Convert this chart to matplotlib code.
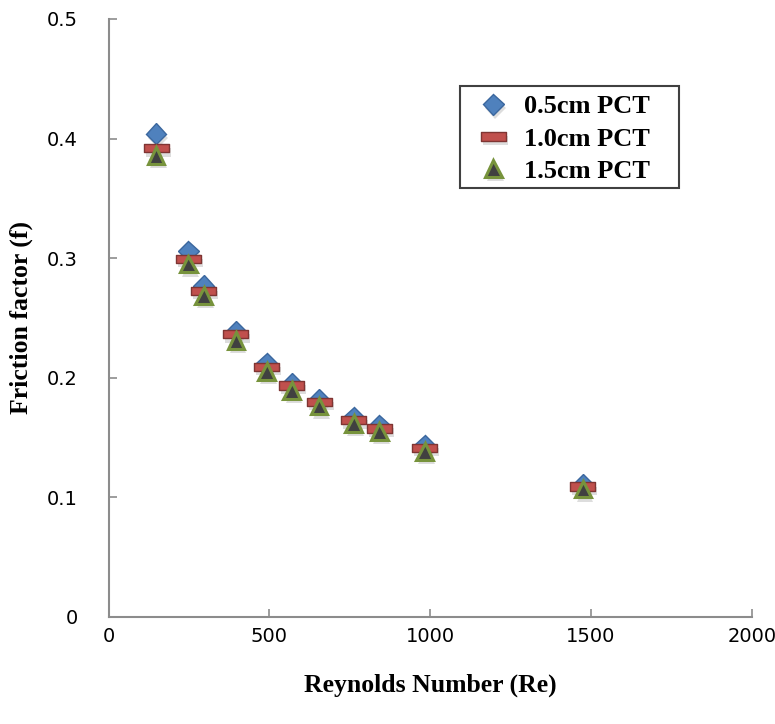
import matplotlib
matplotlib.use("Agg")
import matplotlib.pyplot as plt
from matplotlib.path import Path
from matplotlib.patches import Rectangle
import matplotlib.patheffects as pe

# Data
reynolds = [148, 248, 296, 396, 492, 570, 655, 762, 842, 983, 1475]
f_05 = [0.404, 0.306, 0.277, 0.239, 0.2125, 0.1957, 0.1819, 0.1673, 0.1604, 0.1437, 0.111]
f_10 = [0.392, 0.2995, 0.2726, 0.2364, 0.209, 0.1935, 0.1799, 0.1646, 0.1576, 0.1414, 0.1089]
f_15 = [0.386, 0.295, 0.2686, 0.2314, 0.205, 0.1896, 0.1763, 0.1618, 0.155, 0.1381, 0.107]
labels = ["0.5cm PCT", "1.0cm PCT", "1.5cm PCT"]
xticks = [0, 500, 1000, 1500, 2000]
yticks = [0, 0.1, 0.2, 0.3, 0.4, 0.5]
ytick_labels = ["0", "0.1", "0.2", "0.3", "0.4", "0.5"]

W, H = 775, 724
fig = plt.figure(figsize=(W / 100, H / 100), dpi=100)
ax = fig.add_axes([0.140, 0.1478, 0.830, 0.826])

bar_marker = Path([(-1, -0.34), (1, -0.34), (1, 0.34), (-1, 0.34), (-1, -0.34)],
                  [Path.MOVETO, Path.LINETO, Path.LINETO, Path.LINETO, Path.CLOSEPOLY])

shadow = [pe.SimplePatchShadow(offset=(1.5, -3), shadow_rgbFace="#909090", alpha=0.3), pe.Normal()]

ax.plot(reynolds, f_05, linestyle="none", marker="D", markersize=10.5,
        markerfacecolor="#4F81BD", markeredgecolor="#3B679E", markeredgewidth=1.0,
        label=labels[0], zorder=3, path_effects=shadow)
ax.plot(reynolds, f_10, linestyle="none", marker=bar_marker, markersize=18,
        markerfacecolor="#C0504D", markeredgecolor="#7F3533", markeredgewidth=1.0,
        label=labels[1], zorder=4, path_effects=shadow)
ax.plot(reynolds, f_15, linestyle="none", marker="^", markersize=12,
        markerfacecolor="#404040", markeredgecolor="#77933C", markeredgewidth=2.2,
        label=labels[2], zorder=5, path_effects=shadow)

ax.set_xlim(0, 2000)
ax.set_ylim(0, 0.5)
ax.set_xticks(xticks)
ax.set_yticks(yticks)
ax.set_yticklabels(ytick_labels)

for s in ["top", "right"]:
    ax.spines[s].set_visible(False)
for s in ["left", "bottom"]:
    ax.spines[s].set_color("#8C8C8C")
    ax.spines[s].set_linewidth(1.5)

ax.tick_params(axis="both", direction="in", length=6, width=1.2, color="#8C8C8C",
               labelsize=14, labelcolor="black")
ax.tick_params(axis="x", pad=7)
ax.tick_params(axis="y", pad=22)
for t in ax.get_xticklabels() + ax.get_yticklabels():
    t.set_family("DejaVu Sans")

ax.set_xlabel("Reynolds Number (Re)", fontsize=18.5, fontweight="bold",
              family="Liberation Serif", labelpad=20)
ax.set_ylabel("Friction factor (f)", fontsize=18.5, fontweight="bold",
              family="Liberation Serif", labelpad=10)

leg = ax.legend(loc="upper left", bbox_to_anchor=(480 / W, 1 - 95 / H),
                bbox_transform=fig.transFigure,
                prop={"family": "Liberation Serif", "weight": "bold", "size": 19},
                frameon=False, handlelength=1.0, handletextpad=0.65,
                borderpad=0.0, labelspacing=0.33, borderaxespad=0)
fig.patches.append(Rectangle((460 / W, 1 - 188 / H), 219 / W, 102 / H,
                             transform=fig.transFigure, fill=False,
                             edgecolor="#404040", linewidth=1.5, zorder=10))

fig.savefig("out.png", dpi=100)
